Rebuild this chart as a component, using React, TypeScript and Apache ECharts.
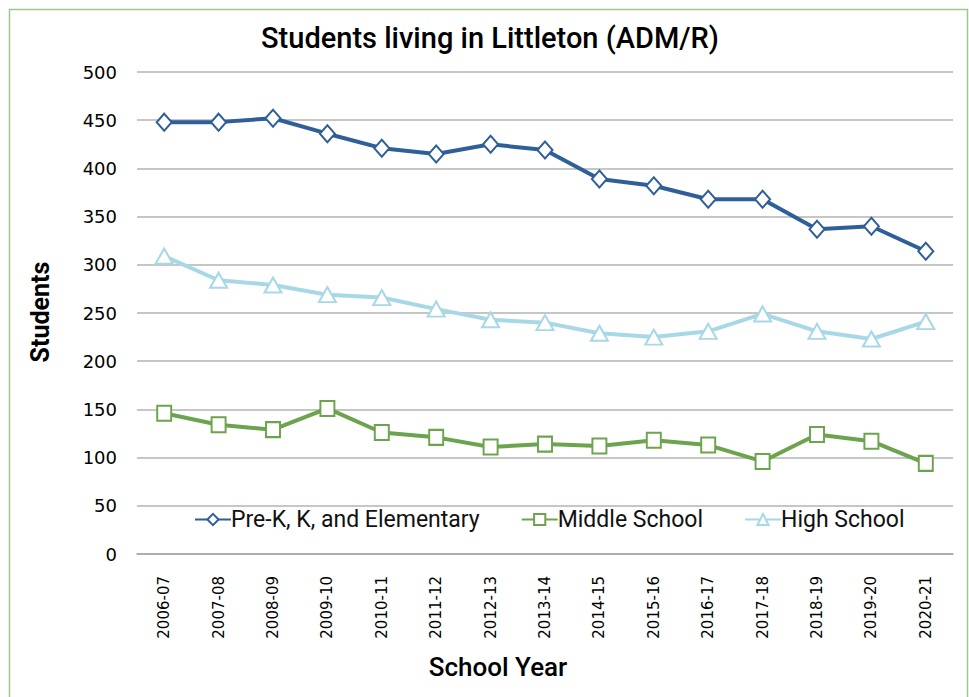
import React, { useEffect, useRef } from "react";
import * as echarts from "echarts";

const categories = [
  "2006-07", "2007-08", "2008-09", "2009-10", "2010-11", "2011-12", "2012-13", "2013-14",
  "2014-15", "2015-16", "2016-17", "2017-18", "2018-19", "2019-20", "2020-21",
];
const elementary = [448, 448, 452, 436, 421, 415, 425, 419, 389, 382, 368, 368, 337, 340, 314];
const middle = [146, 134, 129, 151, 126, 121, 111, 114, 112, 118, 113, 96, 124, 117, 94];
const high = [309, 284, 279, 269, 266, 254, 243, 240, 229, 225, 231, 249, 231, 223, 241];

const BLUE = "#2F5F98";
const GREEN = "#6CA34D";
const LIGHT = "#A8D8E6";

export default function App() {
  const ref = useRef<HTMLDivElement>(null);
  useEffect(() => {
    document.body.style.margin = "0";
    const chart = echarts.init(ref.current!, null, { renderer: "svg" });
    const mk = (name: string, data: number[], color: string, symbol: string, size: any) => ({
      name,
      type: "line",
      data,
      symbol,
      symbolSize: size,
      showAllSymbol: true,
      lineStyle: { color, width: 4 },
      itemStyle: { color: "#ffffff", borderColor: color, borderWidth: 2 },
      emphasis: { disabled: true },
    });
    chart.setOption({
      animation: false,
      backgroundColor: "#ffffff",
      title: {
        text: "Students living in Littleton (ADM/R)",
        left: 485,
        textAlign: "center",
        top: 18,
        textStyle: { fontFamily: "Roboto", fontSize: 29, fontWeight: 500, color: "#000" },
      },
      legend: {
        top: 503,
        left: 189,
        itemGap: 41,
        itemWidth: 36,
        itemHeight: 14,
        textStyle: { fontFamily: "Roboto", fontSize: 23, color: "#111", padding: [0, 0, 0, -5] },
        data: ["Pre-K, K, and Elementary", "Middle School", "High School"],
      },
      grid: { left: 137, right: 16, top: 72, bottom: 143, containLabel: false },
      xAxis: {
        type: "category",
        data: categories,
        boundaryGap: true,
        axisLine: { show: true, lineStyle: { color: "#a6a6a6", width: 1.5 } },
        axisTick: { show: false },
        axisLabel: {
          rotate: 90,
          margin: 22,
          fontFamily: "DejaVu Sans",
          fontSize: 15,
          color: "#000",
        },
      },
      yAxis: {
        type: "value",
        min: 0,
        max: 500,
        interval: 50,
        axisLine: { show: false },
        axisTick: { show: false },
        axisLabel: { margin: 20, fontFamily: "DejaVu Sans", fontSize: 18, color: "#000" },
        splitLine: { lineStyle: { color: "#b3b3b3", width: 1.5 } },
      },
      graphic: [
        {
          type: "rect",
          shape: { x: 9.5, y: 9.5, width: 958, height: 720 },
          style: { fill: "none", stroke: "#9DC88A", lineWidth: 1.5 },
          silent: true,
        },
        {
          type: "text",
          x: 40,
          y: 312,
          rotation: Math.PI / 2,
          style: {
            text: "Students",
            fontFamily: "Roboto",
            fontSize: 25,
            fontWeight: 700,
            fill: "#000",
            align: "center",
            verticalAlign: "middle",
          },
        },
        {
          type: "text",
          x: 498,
          y: 667,
          style: {
            text: "School Year",
            fontFamily: "Roboto",
            fontSize: 26,
            fontWeight: 500,
            fill: "#000",
            align: "center",
            verticalAlign: "middle",
          },
        },
      ],
      series: [
        mk("Pre-K, K, and Elementary", elementary, BLUE, "diamond", [15, 17]),
        mk("Middle School", middle, GREEN, "rect", [14, 15]),
        mk("High School", high, LIGHT, "triangle", [17, 15]),
      ],
    });
    return () => chart.dispose();
  }, []);
  return <div ref={ref} style={{ width: 969, height: 697 }} />;
}
